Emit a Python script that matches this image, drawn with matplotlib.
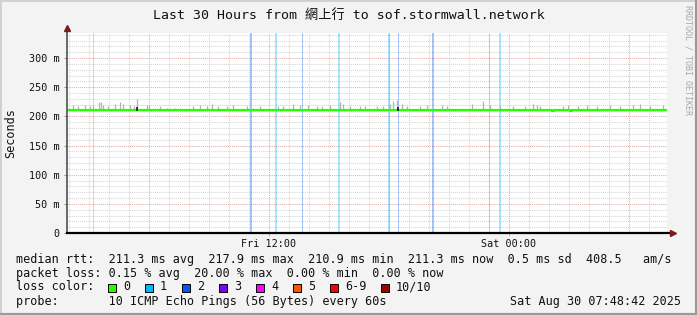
import matplotlib
matplotlib.use('Agg')
import matplotlib.pyplot as plt
from matplotlib.patches import Rectangle
from matplotlib.lines import Line2D

plt.rcParams['font.family'] = ['DejaVu Sans Mono', 'Noto Sans CJK TC']

W, H = 697, 315

title = "Last 30 Hours from 網上行 to sof.stormwall.network"
y_label = "Seconds"
watermark = "RRDTOOL / TOBI OETIKER"

# time axis in hours since Fri 00:00
x_start, x_end = 1.9, 31.9
y_max = 342.9
ytick_vals = [0, 50, 100, 150, 200, 250, 300]
ytick_labels = ["0", "50 m", "100 m", "150 m", "200 m", "250 m", "300 m"]
xtick_vals = [12, 24]
xtick_labels = ["Fri 12:00", "Sat 00:00"]

# median rtt (ms), step series
median_times = [1.9, 26.15, 26.25, 27.05, 27.15, 31.9]
median_values = [211.3, 209.6, 211.3, 209.6, 211.3, 211.3]

# smoke tops (ms)
smoke_times = [2.2, 2.45, 2.8, 3.05, 3.2, 3.5, 3.6, 3.7, 3.95, 4.3, 4.55, 4.7, 5.05, 5.25,
               5.4, 5.9, 6.0, 6.55, 6.9, 7.3, 8.2, 8.55, 8.9, 9.15, 9.45, 9.9, 10.2, 10.9,
               11.2, 11.55, 12.45, 12.7, 13.2, 13.55, 13.95, 14.4, 14.65, 15.05, 15.55,
               15.7, 16.05, 16.55, 16.8, 17.4, 17.7, 18.05, 18.2, 18.4, 18.65, 18.9, 19.55,
               19.9, 20.65, 20.9, 22.15, 22.7, 23.05, 23.55, 24.2, 24.8, 25.2, 25.4, 25.55,
               26.7, 26.95, 27.45, 27.9, 28.4, 29.05, 29.55, 30.2, 30.55, 31.05, 31.7]
smoke_values = [219, 217, 219, 218, 219, 225, 224, 219, 217, 222, 224, 221, 219, 218,
                230, 219, 219, 217, 215, 215, 217, 219, 218, 221, 217, 217, 219, 217,
                215, 217, 217, 218, 221, 219, 219, 218, 217, 219, 225,
                221, 217, 217, 217, 217, 217, 222, 226, 228, 221, 217, 217,
                219, 219, 217, 222, 226, 219, 217, 217, 218, 221, 219, 218,
                217, 219, 218, 219, 217, 219, 217, 219, 221, 218, 219]

# dark samples
dark_times = [5.4, 18.45]
dark_values = [216, 216]

# packet loss events
loss_times = [3.2, 11.05, 12.3, 13.65, 15.45, 17.95, 18.45, 20.15, 23.0, 23.5]
loss_levels = [1, 2, 1, 2, 1, 1, 2, 2, 1, 1]
loss_minutes = [3, 6, 6, 3, 6, 6, 3, 6, 3, 6]

loss_legend_labels = ["0", "1", "2", "3", "4", "5", "6-9", "10/10"]
loss_colors = ["#26ff00", "#00b8ff", "#0059ff", "#7e00ff", "#ff00ff", "#ff5500", "#ff0000", "#a10000"]

row1 = "median rtt:  211.3 ms avg  217.9 ms max  210.9 ms min  211.3 ms now  0.5 ms sd  408.5   am/s"
row2 = "packet loss: 0.15 % avg  20.00 % max  0.00 % min  0.00 % now"
row3 = "loss color:"
row4 = "probe:       10 ICMP Echo Pings (56 Bytes) every 60s"
date_text = "Sat Aug 30 07:48:42 2025"

BG = "#f3f3f3"
fig = plt.figure(figsize=(W / 100, H / 100), dpi=100, facecolor=BG)


def fx(x):
    return x / W


def fy(y):
    return 1 - y / H


ax = fig.add_axes([fx(67), fy(233), 600 / W, 200 / H])
ax.set_facecolor("white")
ax.set_xlim(x_start, x_end)
ax.set_ylim(0, y_max)
for s in ax.spines.values():
    s.set_visible(False)

minor_c = "#d6d6d6"
major_c = "#e6abab"
dot = (0, (1, 1))
for h in range(2, 32):
    if h % 6:
        ax.axvline(h, color=minor_c, lw=0.75, ls=dot, zorder=1)
for h in range(6, 32, 6):
    ax.axvline(h, color=major_c, lw=0.75, ls=dot, zorder=1.1)
for v in range(10, 343, 10):
    if v % 50:
        ax.axhline(v, color=minor_c, lw=0.75, ls=dot, zorder=1)
    else:
        ax.axhline(v, color=major_c, lw=0.75, ls=dot, zorder=1.1)

# loss bars
ax.bar(loss_times, [y_max] * len(loss_times), width=[m / 60 for m in loss_minutes],
       color=[loss_colors[l] for l in loss_levels], alpha=0.35, align='edge',
       linewidth=0, zorder=2)

# smoke
ax.vlines(smoke_times, 211.3, smoke_values, color="#b3b3b3", lw=0.9, zorder=3)
ax.vlines(dark_times, 210.0, dark_values, color="#1a1a1a", lw=1.2, zorder=5)

# median
ax.plot(median_times, median_values, drawstyle='steps-post', color=loss_colors[0],
        lw=1.6, zorder=4, solid_capstyle='butt')

# axes lines and arrows
arrow_c = "#7f1a1a"
ax.plot([x_start, x_start], [0, y_max + 8], color="#505050", lw=1.2, clip_on=False, zorder=6)
ax.plot([x_start, x_end + 0.25], [0, 0], color="black", lw=1.6, clip_on=False, zorder=6)
ax.plot([x_start], [y_max + 9], marker='^', ms=5, color=arrow_c, clip_on=False, zorder=7)
ax.plot([x_end + 0.3], [0], marker='>', ms=5, color=arrow_c, clip_on=False, zorder=7)

ax.set_yticks(ytick_vals, ytick_labels)
ax.set_xticks(xtick_vals, xtick_labels)
ax.tick_params(axis='y', length=2, width=0.7, color="#909090", pad=3.5, labelsize=7.3,
               labelcolor="#111111")
ax.tick_params(axis='x', length=2.5, width=0.7, color=major_c, pad=1.5, labelsize=7.3,
               labelcolor="#111111")

# texts
fig.text(fx(348.5), fy(15), title, ha='center', va='center', fontsize=9.5, color="#111111")
fig.text(fx(11), fy(133), y_label, rotation=90, ha='center', va='center', fontsize=8.5,
         color="#111111")
fig.text(fx(688), fy(60), watermark, rotation=270, ha='center', va='center', fontsize=6,
         color="#a8a8a8")

LF = 8.5
fig.text(fx(16), fy(259), row1, ha='left', va='center', fontsize=LF, color="#111111")
fig.text(fx(16), fy(273), row2, ha='left', va='center', fontsize=LF, color="#111111")
fig.text(fx(16), fy(287), row3, ha='left', va='center', fontsize=LF, color="#111111")
fig.text(fx(16), fy(301), row4, ha='left', va='center', fontsize=LF, color="#111111")
fig.text(fx(681), fy(301), date_text, ha='right', va='center', fontsize=LF, color="#111111")

box_x = [108, 145, 182, 219, 256, 293, 330, 381]
for bx, lab, col in zip(box_x, loss_legend_labels, loss_colors):
    fig.patches.append(Rectangle((fx(bx), fy(291.5)), 8 / W, 8 / H, transform=fig.transFigure,
                                 facecolor=col, edgecolor="black", lw=0.7))
    fig.text(fx(bx + 15), fy(287), lab, ha='left', va='center', fontsize=LF, color="#111111")

# frame
fig.add_artist(Line2D([0, 0], [0, 1], transform=fig.transFigure, color="#d0d0d0", lw=2))
fig.add_artist(Line2D([0, 1], [1, 1], transform=fig.transFigure, color="#d0d0d0", lw=2))
fig.add_artist(Line2D([1, 1], [0, 1], transform=fig.transFigure, color="#9a9a9a", lw=3))
fig.add_artist(Line2D([0, 1], [0, 0], transform=fig.transFigure, color="#9a9a9a", lw=3))

fig.savefig("out.png", dpi=100, facecolor=BG)
